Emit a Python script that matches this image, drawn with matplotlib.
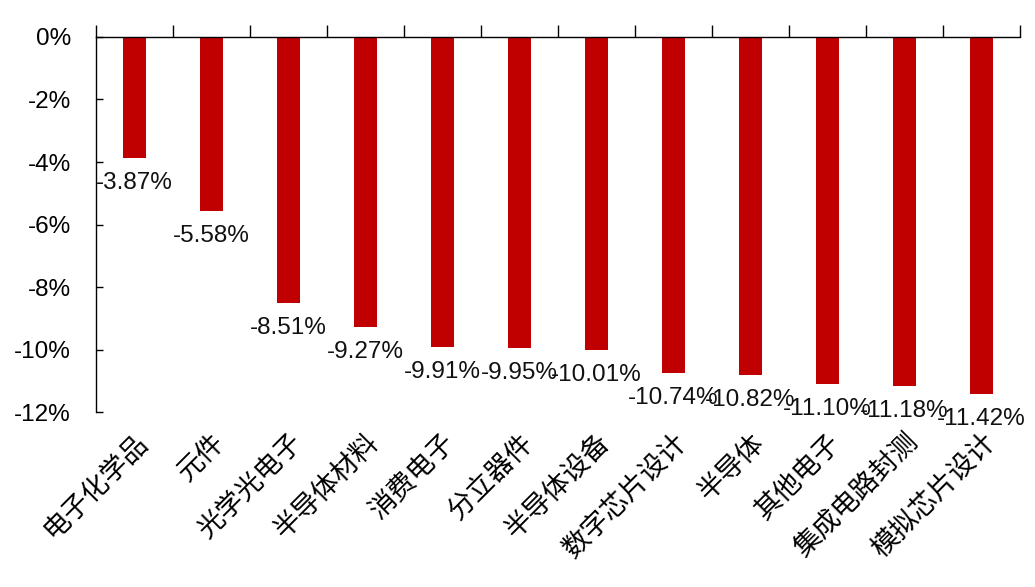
import matplotlib
matplotlib.use("Agg")
import matplotlib.pyplot as plt
from matplotlib.ticker import FuncFormatter

plt.rcParams['font.family'] = ['Liberation Sans', 'Noto Sans CJK SC', 'DejaVu Sans']

categories = ['电子化学品', '元件', '光学光电子', '半导体材料', '消费电子', '分立器件',
              '半导体设备', '数字芯片设计', '半导体', '其他电子', '集成电路封测', '模拟芯片设计']
values = [-3.87, -5.58, -8.51, -9.27, -9.91, -9.95, -10.01, -10.74, -10.82, -11.10, -11.18, -11.42]
labels = ['-3.87%', '-5.58%', '-8.51%', '-9.27%', '-9.91%', '-9.95%', '-10.01%',
          '-10.74%', '-10.82%', '-11.10%', '-11.18%', '-11.42%']
yticks = [0, -2, -4, -6, -8, -10, -12]

fig = plt.figure(figsize=(10.35, 5.87), dpi=100)
ax = fig.add_axes([0.0928, 0.298, 0.8927, 0.639])

x = list(range(len(categories)))
ax.bar(x, values, width=0.31, color='#C00000')
for xi, v, lab in zip(x, values, labels):
    ax.annotate(lab, (xi, v), xytext=(0, -10), textcoords='offset points',
                ha='center', va='top', fontsize=17.5, color='#111111')

ax.set_xlim(-0.5, len(categories) - 0.5)
ax.set_ylim(-12, 0)
ax.set_yticks(yticks)
ax.yaxis.set_major_formatter(FuncFormatter(lambda v, p: f'{int(round(v))}%'))
ax.set_xticks([i - 0.5 for i in x] + [len(x) - 0.5], minor=False)
ax.set_xticklabels([''] * (len(x) + 1))
ax.set_xticks(x, minor=True)
ax.set_xticklabels(categories, minor=True, rotation=45, ha='right', rotation_mode='anchor',
                   fontsize=19.5, family=['Noto Sans CJK SC', 'DejaVu Sans'])
ax.tick_params(axis='x', which='major', top=True, bottom=False, direction='out', length=9,
               width=1, labelbottom=False)
ax.tick_params(axis='x', which='minor', top=False, bottom=False, length=0, pad=12,
               labelbottom=True)
ax.tick_params(axis='y', direction='in', length=5, width=1, labelsize=17.5, pad=18)

for s in ['right', 'bottom']:
    ax.spines[s].set_visible(False)
ax.spines['top'].set_linewidth(1)
ax.spines['left'].set_linewidth(1)

fig.savefig('out.png', dpi=100)
